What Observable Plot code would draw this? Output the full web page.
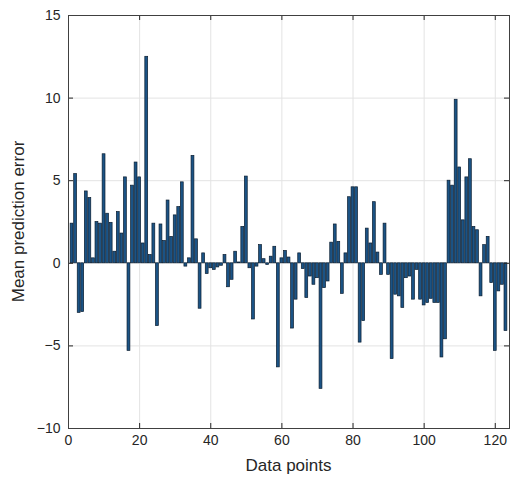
<!DOCTYPE html>
<html><head><meta charset="utf-8">
<script src="https://cdn.jsdelivr.net/npm/d3@7"></script>
<script src="https://cdn.jsdelivr.net/npm/@observablehq/plot@0.6"></script>
<style>
  html,body{margin:0;padding:0;background:#fff;}
  #chart svg{display:block;}
</style>
</head><body><div id="chart"></div>
<script>
// Data
const dataPoints = d3.range(1, 124);
const errors = [
  2.4, 5.4, -3.0, -2.95, 4.35, 3.95, 0.3, 2.5, 2.4, 6.6,
  3.0, 2.45, 0.7, 3.1, 1.8, 5.2, -5.3, 4.7, 6.1, 5.2,
  1.2, 12.5, 0.5, 2.4, -3.8, 2.35, 1.35, 3.8, 1.6, 2.9,
  3.4, 4.9, -0.2, 0.3, 6.5, 1.45, -2.75, 0.6, -0.65, -0.3,
  -0.4, -0.25, -0.15, 0.5, -1.45, -1.0, 0.7, 0.05, 2.2, 5.25,
  -0.3, -3.4, -0.2, 1.1, 0.25, -0.1, 0.4, 1.0, -6.3, 0.3,
  0.75, 0.35, -3.95, -2.2, 0.6, -0.35, -2.1, -0.8, -1.3, -0.9,
  -7.6, -1.5, -1.1, 1.25, 2.35, 1.3, -1.85, 0.6, 4.0, 4.6,
  4.6, -4.8, -3.5, 2.1, 1.2, 3.7, 0.65, -0.7, 2.4, -0.7,
  -5.8, -1.9, -2.0, -2.7, -0.9, -0.8, -2.2, -0.4, -2.2, -2.55,
  -2.4, -2.15, -2.4, -2.4, -5.7, -4.6, 5.0, 4.7, 9.9, 5.8,
  2.6, 5.2, 6.3, 2.2, 2.0, -2.0, 1.1, 1.6, -1.2, -5.3,
  -1.7, -1.3, -4.1
];
const xTicks = [0, 20, 40, 60, 80, 100, 120];
const yTicks = [-10, -5, 0, 5, 10, 15];
const xDomain = [0, 124];
const yDomain = [-10, 15];
const xLabel = "Data points";
const yLabel = "Mean prediction error";

const rows = dataPoints.map((p, i) => ({p, e: errors[i]}));

const W = 510, H = 479;
const mL = 68, mR = 1, mT = 15, mB = 51;
const plotW = W - mL - mR, plotH = H - mT - mB;
const tick = 5;
const half = 0.4;

const chart = Plot.plot({
  width: W, height: H,
  marginLeft: mL, marginRight: mR, marginTop: mT, marginBottom: mB,
  style: {fontFamily: "'Liberation Sans', Arial, sans-serif", fontSize: "14px", color: "#262626", background: "#fff", overflow: "visible"},
  x: {domain: xDomain, ticks: xTicks, tickSize: 0, tickPadding: 7, label: null},
  y: {domain: yDomain, ticks: yTicks, tickSize: 0, tickPadding: 8, label: null},
  marks: [
    Plot.ruleX(xTicks, {stroke: "#e3e3e3"}),
    Plot.ruleY(yTicks, {stroke: "#e3e3e3"}),
    Plot.rect(rows, {x1: d => d.p - half, x2: d => d.p + half, y1: () => 0, y2: "e", fill: "#1b5385", stroke: "#0a1d30", strokeWidth: 0.7}),
    Plot.ruleX(xTicks, {stroke: "#262626", insetTop: plotH - tick}),
    Plot.ruleX(xTicks, {stroke: "#262626", insetBottom: plotH - tick}),
    Plot.ruleY(yTicks, {stroke: "#262626", insetRight: plotW - tick}),
    Plot.ruleY(yTicks, {stroke: "#262626", insetLeft: plotW - tick}),
    Plot.frame({stroke: "#404040", strokeWidth: 1})
  ]
});

const svg = d3.select(chart);
// axis titles as real text
svg.append("text")
  .attr("x", mL + plotW / 2).attr("y", H - 8)
  .attr("text-anchor", "middle")
  .attr("fill", "#262626")
  .style("font-size", "17px")
  .text(xLabel);
svg.append("text")
  .attr("transform", `translate(${24},${mT + plotH / 2}) rotate(-90)`)
  .attr("text-anchor", "middle")
  .attr("fill", "#262626")
  .style("font-size", "17px")
  .text(yLabel);

document.getElementById("chart").appendChild(chart);
</script>
</body></html>
